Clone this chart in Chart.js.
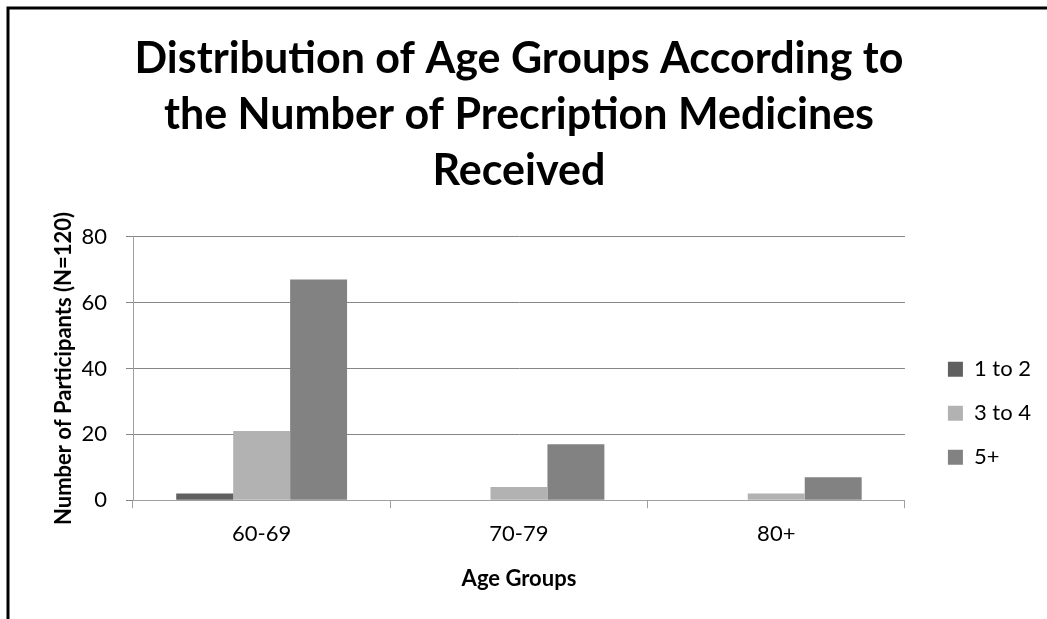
<!DOCTYPE html>
<html>
<head>
<meta charset="utf-8">
<script src="https://cdn.jsdelivr.net/npm/chart.js@4/dist/chart.umd.min.js"></script>
<style>
  html, body { margin: 0; padding: 0; background: #ffffff; }
  #wrap { width: 1047px; height: 619px; position: relative; }
</style>
</head>
<body>
<div id="wrap"><canvas id="c" width="1047" height="619"></canvas></div>
<script>
// Age groups on the x axis
const categories = ['60-69', '70-79', '80+'];
// Participants per number of prescription medicines received
const seriesNames = ['1 to 2', '3 to 4', '5+'];
const oneToTwo = [2, 0, 0];
const threeToFour = [21, 4, 2];
const fivePlus = [67, 17, 7];
const yTicks = [0, 20, 40, 60, 80];

const titleLines = ['Distribution of Age Groups According to', 'the Number of Precription Medicines', 'Received'];
const xTitle = 'Age Groups';
const yTitle = 'Number of Participants (N=120)';

const FONT = 'Lato, "Open Sans", sans-serif';

// Black frame along the top and left edges; the title is centred over
// the plot area and the legend sits a little away from the plot, lowered
const framePlugin = {
  id: 'frame',
  beforeDraw(chart) {
    const ctx = chart.ctx;
    ctx.save();
    ctx.fillStyle = '#ffffff';
    ctx.fillRect(0, 0, chart.width, chart.height);
    ctx.strokeStyle = '#000000';
    ctx.lineWidth = 3;
    ctx.beginPath();
    ctx.moveTo(8, chart.height);
    ctx.lineTo(8, 8);
    ctx.lineTo(chart.width, 8);
    ctx.stroke();
    ctx.restore();

    const area = chart.chartArea;

    const tb = chart.titleBlock;
    const tdx = (area.left + area.right) / 2 - (tb.left + tb.right) / 2;
    tb.left += tdx; tb.right += tdx;

    const lg = chart.legend;
    const dx = 21;
    const h = lg.bottom - lg.top;
    const centre = area.top + (area.bottom - area.top) * 0.67;
    const dy = centre - h / 2 - lg.top;
    lg.left += dx; lg.right += dx;
    lg.top += dy; lg.bottom += dy;
  }
};

new Chart(document.getElementById('c'), {
  type: 'bar',
  data: {
    labels: categories,
    datasets: [
      { label: seriesNames[0], data: oneToTwo, backgroundColor: '#606060' },
      { label: seriesNames[1], data: threeToFour, backgroundColor: '#b2b2b2' },
      { label: seriesNames[2], data: fivePlus, backgroundColor: '#828282' }
    ]
  },
  options: {
    responsive: false,
    animation: false,
    devicePixelRatio: 1,
    categoryPercentage: 0.664,
    barPercentage: 1,
    layout: { padding: { top: 0, left: 48, right: 27, bottom: 23 } },
    plugins: {
      tooltip: { enabled: false },
      title: {
        display: true,
        text: titleLines,
        color: '#000000',
        font: { family: FONT, size: 43, weight: 'bold', lineHeight: 1.3 },
        padding: { top: 31, bottom: 38 }
      },
      legend: {
        position: 'right',
        align: 'center',
        labels: {
          color: '#000000',
          font: { family: FONT, size: 22 },
          boxWidth: 15,
          boxHeight: 15,
          padding: 22
        }
      }
    },
    scales: {
      x: {
        grid: {
          offset: true,
          drawOnChartArea: false,
          color: '#a0a0a0',
          tickLength: 8
        },
        border: { color: '#a0a0a0', width: 1 },
        ticks: { color: '#000000', font: { family: FONT, size: 22 }, padding: 13 },
        title: {
          display: true,
          text: xTitle,
          color: '#000000',
          font: { family: FONT, size: 22, weight: 'bold' },
          padding: { top: 5 }
        }
      },
      y: {
        min: 0,
        max: 80,
        afterBuildTicks(axis) { axis.ticks = yTicks.map(v => ({ value: v })); },
        afterFit(axis) { axis.width = 85; },
        grid: { color: '#868686', lineWidth: 1, tickLength: 7 },
        border: { color: '#a0a0a0', width: 1 },
        ticks: { color: '#000000', font: { family: FONT, size: 22 }, padding: 19 },
        title: {
          display: true,
          text: yTitle,
          color: '#000000',
          font: { family: FONT, size: 22, weight: 'bold' },
          padding: { top: 3, bottom: 0 }
        }
      }
    }
  },
  plugins: [framePlugin]
});
</script>
</body>
</html>
